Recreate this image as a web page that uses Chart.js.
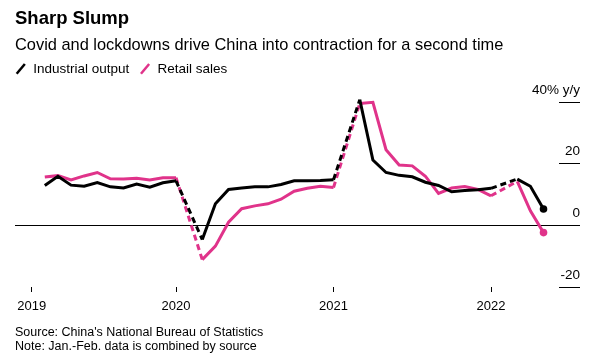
<!DOCTYPE html>
<html><head><meta charset="utf-8">
<script src="https://cdn.jsdelivr.net/npm/chart.js@4"></script>
<style>html,body{margin:0;padding:0;background:#fff}#wrap{position:relative;width:600px;height:357px}</style>
</head><body><div id="wrap"><canvas id="c"></canvas></div>
<script>
const months = ['2019-02','2019-03','2019-04','2019-05','2019-06','2019-07','2019-08','2019-09','2019-10','2019-11','2019-12',
  '2020-02','2020-03','2020-04','2020-05','2020-06','2020-07','2020-08','2020-09','2020-10','2020-11','2020-12',
  '2021-02','2021-03','2021-04','2021-05','2021-06','2021-07','2021-08','2021-09','2021-10','2021-11','2021-12',
  '2022-02','2022-03','2022-04'];
const industrialOutput = [5.3,8.5,5.4,5.0,6.3,4.8,4.4,5.8,4.7,6.2,6.9,
  -13.5,-1.1,3.9,4.4,4.8,4.8,5.6,6.9,6.9,7.0,7.3,
  35.1,14.1,9.8,8.8,8.3,6.4,5.3,3.1,3.5,3.8,4.3,
  7.5,5.0,-2.9];
const retailSales = [8.2,8.7,7.2,8.6,9.8,7.6,7.5,7.8,7.2,8.0,8.0,
  -20.5,-15.8,-7.5,-2.8,-1.8,-1.1,0.5,3.3,4.3,5.0,4.6,
  33.8,34.2,17.7,12.4,12.1,8.5,2.5,4.4,4.9,3.9,1.7,
  6.7,-3.5,-11.1];
const yearLabels = ['2019','2020','2021','2022'];
const yearTickMonths = [1,12,24,36];
const yTicks = [-20,0,20,40];
const seriesNames = ['Industrial output','Retail sales'];
const seriesColors = ['#000000','#e0338a'];
const titleText = 'Sharp Slump';
const subtitleText = 'Covid and lockdowns drive China into contraction for a second time';
const sourceLines = ["Source: China's National Bureau of Statistics", 'Note: Jan.-Feb. data is combined by source'];

const FONT = "'Liberation Sans', Arial, Helvetica, sans-serif";
Chart.defaults.font.family = FONT;
Chart.defaults.color = '#000';

const monthIndex = s => { const [y, m] = s.split('-').map(Number); return (y - 2019) * 12 + m; };
const toPoints = vals => vals.map((v, i) => ({x: monthIndex(months[i]), y: v}));
const lastIdx = months.length - 1;

function makeDataset(label, vals, color) {
  return {
    label, data: toPoints(vals), borderColor: color, backgroundColor: color,
    borderWidth: 3, tension: 0, clip: false,
    pointRadius: c => c.dataIndex === lastIdx ? 3.8 : 0,
    pointBorderWidth: 0, pointBackgroundColor: color,
    segment: { borderDash: c => (c.p1.parsed.x - c.p0.parsed.x > 1.5 ? [6, 4] : undefined) }
  };
}

const chart = new Chart(document.getElementById('c'), {
  type: 'line',
  data: { datasets: [
    makeDataset(seriesNames[0], industrialOutput, seriesColors[0]),
    makeDataset(seriesNames[1], retailSales, seriesColors[1])
  ]},
  options: {
    responsive: true, maintainAspectRatio: false, animation: false, events: [],
    layout: { padding: { top: 0, left: 5, right: 20, bottom: 0 } },
    plugins: {
      tooltip: { enabled: false },
      title: { display: true, text: titleText, align: 'start', fullSize: false, color: '#000',
        font: { size: 18.5, weight: 'bold', lineHeight: 1 }, padding: { top: 9.75, bottom: 0 } },
      subtitle: { display: true, text: subtitleText, align: 'start', fullSize: false, color: '#000',
        font: { size: 16.4, lineHeight: 0.8 }, padding: { top: 10.7, bottom: 0 } },
      legend: { display: true, position: 'top', align: 'start', fullSize: true,
        labels: { usePointStyle: true, boxWidth: 11.5, boxHeight: 9, padding: 10, color: '#000',
          font: { size: 13.5 },
          generateLabels: ch => ch.data.datasets.map((ds, i) => ({
            text: ds.label, fillStyle: ds.borderColor, strokeStyle: ds.borderColor, lineWidth: 2.5,
            pointStyle: 'line', rotation: -50, datasetIndex: i, fontColor: '#000', hidden: false
          }))
        } }
    },
    scales: {
      x: { type: 'linear', min: -0.27, max: 41.18,
        afterBuildTicks: s => { s.ticks = yearTickMonths.map(v => ({ value: v })); },
        grid: { drawOnChartArea: false, drawTicks: true, tickLength: 5, tickColor: '#000', color: '#000', lineWidth: 1 },
        border: { display: false },
        ticks: { autoSkip: false, maxRotation: 0, padding: 7, color: '#000', font: { size: 13 },
          callback: v => yearLabels[yearTickMonths.indexOf(v)] },
        title: { display: true, align: 'start', text: sourceLines, color: '#000',
          font: { size: 12.5, lineHeight: 1.12 }, padding: { top: 4.4, bottom: 3 } }
      },
      yL: { position: 'left', display: true, grid: { display: false }, border: { display: false },
        ticks: { display: false }, afterFit: s => { s.width = 10; } },
      y: { position: 'right', min: -20, max: 45.38,
        afterBuildTicks: s => { s.ticks = yTicks.map(v => ({ value: v })); },
        afterFit: s => { s.width = 21; },
        grid: { drawOnChartArea: true, tickLength: 21, tickColor: '#000', lineWidth: 1,
          color: c => (c.tick && c.tick.value === 0 ? '#000' : 'rgba(0,0,0,0)') },
        border: { display: false },
        ticks: { mirror: true, crossAlign: 'near', padding: 21, labelOffset: -12, color: '#000', font: { size: 13.5 },
          callback: v => (v === 40 ? '40% y/y' : String(v)) }
      }
    }
  }
});
</script></body></html>
